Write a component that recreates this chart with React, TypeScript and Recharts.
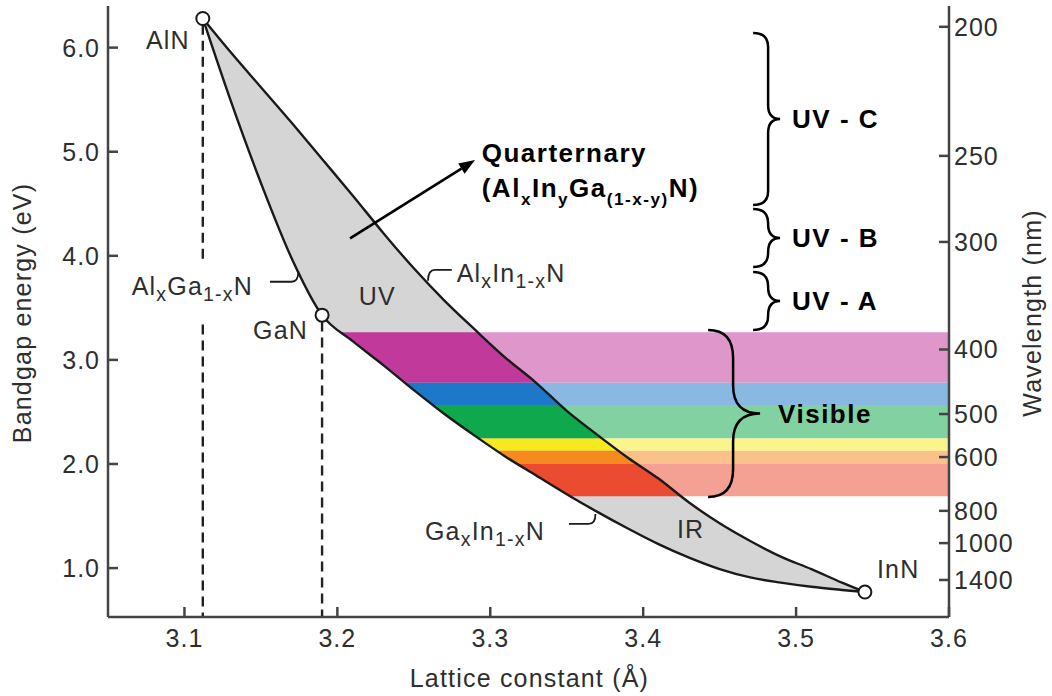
import React from 'react'
import { ComposedChart, Area, Line, Scatter, XAxis, YAxis, ReferenceLine, ReferenceDot } from 'recharts'

const FONT = '"Liberation Sans", Arial, Helvetica, sans-serif'
const INK = '#1a1a1a'
const AXIS = '#444'
const TEXT = '#2e2e2e'

// plot ranges: lattice constant (Å) and bandgap (eV)
const A_MIN = 3.05
const A_MAX = 3.6
const E_MIN = 0.53
const E_MAX = 6.4

const latticeTicks = [3.1, 3.2, 3.3, 3.4, 3.5, 3.6]
const energyTicks = [1, 2, 3, 4, 5, 6]
const wavelengthTicks = [200, 250, 300, 400, 500, 600, 800, 1000, 1400]

// binary end points
const compoundNames = ['AlN', 'GaN', 'InN']
const compoundLattice = [3.112, 3.19, 3.545]
const compoundGap = [6.28, 3.43, 0.77]

// lattice constant samples along the ternary boundaries
const latticeA = [
  3.112, 3.13, 3.15, 3.17, 3.19, 3.21, 3.23, 3.25, 3.27, 3.29, 3.31, 3.33,
  3.35, 3.37, 3.39, 3.41, 3.43, 3.45, 3.47, 3.49, 3.51, 3.53, 3.545,
]
// AlInN: AlN -> InN
const gapAlInN = [
  6.28, 5.96, 5.62, 5.28, 4.93, 4.58, 4.22, 3.88, 3.57, 3.29, 3.02, 2.78,
  2.51, 2.28, 2.06, 1.86, 1.63, 1.43, 1.26, 1.11, 0.99, 0.86, 0.77,
]
// AlGaN: AlN -> GaN (first five samples)
const gapAlGaN = [6.28, 5.5, 4.7, 3.98, 3.43]
// GaInN: GaN -> InN (from the GaN sample on)
const gapGaInN = [
  3.43, 3.18, 2.95, 2.71, 2.48, 2.27, 2.07, 1.89, 1.71, 1.54, 1.38, 1.23,
  1.1, 0.99, 0.91, 0.86, 0.82, 0.79, 0.77,
]

// visible colour bands (eV edges, violet -> red)
const bandEdges = [3.265, 2.78, 2.566, 2.246, 2.127, 2.0, 1.69]
const bandColors = ['#c1399b', '#1d78c9', '#0fa84c', '#f6ea1f', '#f68a1f', '#ea4b31']

// spectral range braces
const braceLabels = ['UV - C', 'UV - B', 'UV - A', 'Visible']
const braceLattice = [3.4817, 3.4817, 3.4817, 3.4588]
const braceTop = [6.141, 4.45, 3.845, 3.287]
const braceBottom = [4.488, 3.893, 3.287, 1.683]

// free text notes
const noteText = ['UV', 'IR', 'Al_{x}Ga_{1-x}N', 'Al_{x}In_{1-x}N', 'Ga_{x}In_{1-x}N', 'Quarternary', '(Al_{x}In_{y}Ga_{(1-x-y)}N)']
const noteLattice = [3.2262, 3.431, 3.0655, 3.278, 3.2573, 3.2944, 3.2944]
const noteGap = [3.527, 1.289, 3.624, 3.751, 1.27, 4.904, 4.565]

// leader lines from alloy names to their curves
const leaderFrom = [[3.1559, 3.751], [3.2748, 3.864], [3.3515, 1.424]]
const leaderTo = [[3.1745, 3.85], [3.2593, 3.76], [3.3688, 1.52]]

// dashed drop lines below AlN and GaN
const dropLattice = [3.112, 3.112, 3.19]
const dropTop = [6.22, 3.34, 3.37]
const dropBottom = [3.94, E_MIN, E_MIN]

const HC = 1240 // eV·nm

const lowerEdge = [...gapAlGaN, ...gapGaInN.slice(1)]
const boundaryRows = latticeA.map((a, i) => ({ a, upper: gapAlInN[i], lower: lowerEdge[i] }))
const overlayRows = [...boundaryRows, { a: A_MAX, upper: compoundGap[2], lower: compoundGap[2] }]
const upperLine = latticeA.map((a, i) => ({ a, eg: gapAlInN[i] }))
const lowerLine = latticeA.map((a, i) => ({ a, eg: lowerEdge[i] }))
const compoundRows = compoundNames.map((name, i) => ({ name, a: compoundLattice[i], eg: compoundGap[i] }))

const labelOffset: Record<string, [number, number, string]> = {
  AlN: [-13, 31, 'end'],
  GaN: [-14, 24, 'end'],
  InN: [12, -14, 'start'],
}

function RichText({ x, y, text, size, bold, anchor }: any) {
  const parts = text.split(/(_\{[^}]*\})/).filter(Boolean)
  const drop = size * (bold ? 0.3 : 0.24)
  const subSize = size * (bold ? 0.66 : 0.78)
  let lowered = false
  return (
    <text
      x={x}
      y={y}
      textAnchor={anchor}
      fontFamily={FONT}
      fontSize={size}
      fontWeight={bold ? 700 : 400}
      letterSpacing={bold ? 1.5 : 1.2}
      fill={bold ? '#000' : TEXT}
    >
      {parts.map((p: string, i: number) => {
        const sub = p.startsWith('_{')
        const dy = sub ? (lowered ? 0 : drop) : lowered ? -drop : 0
        lowered = sub
        return (
          <tspan key={i} dy={dy} fontSize={sub ? subSize : size}>
            {sub ? p.slice(2, -1) : p}
          </tspan>
        )
      })}
    </text>
  )
}

const tickText = { fontFamily: FONT, fontSize: 25, letterSpacing: 1, fill: TEXT }

function LeftTick({ x, y, payload }: any) {
  const ax = x + 8
  return (
    <g>
      <line x1={ax} x2={ax + 10} y1={y} y2={y} stroke={AXIS} strokeWidth={2.5} />
      <text x={x} y={y} dy="0.36em" textAnchor="end" {...tickText}>
        {Number(payload.value).toFixed(1)}
      </text>
    </g>
  )
}

function RightTick({ x, y, payload }: any) {
  const ax = x - 5
  return (
    <g>
      <line x1={ax} x2={ax - 10} y1={y} y2={y} stroke={AXIS} strokeWidth={2.5} />
      <text x={x} y={y} dy="0.36em" textAnchor="start" {...tickText}>
        {Math.round(HC / payload.value)}
      </text>
    </g>
  )
}

function BottomTick({ x, y, payload }: any) {
  const ay = y - 8
  return (
    <g>
      <line x1={x} x2={x} y1={ay} y2={ay - 10} stroke={AXIS} strokeWidth={2.5} />
      <text x={x} y={ay + 30} textAnchor="middle" {...tickText}>
        {Number(payload.value).toFixed(1)}
      </text>
    </g>
  )
}

function TopTick({ x, y }: any) {
  return <line x1={x} x2={x} y1={y} y2={y + 10} stroke={AXIS} strokeWidth={2.5} />
}

function CompoundMark({ cx, cy, payload }: any) {
  const [dx, dy, anchor] = labelOffset[payload.name]
  return (
    <g>
      <circle cx={cx} cy={cy} r={6.5} fill="#fff" stroke={INK} strokeWidth={2} />
      <text x={cx + dx} y={cy + dy} textAnchor={anchor} fontFamily={FONT} fontSize={25} letterSpacing={1.2} fill={TEXT}>
        {payload.name}
      </text>
    </g>
  )
}

function braceShape(label: string, cw: number, ch: number, tip: number, gap: number) {
  return (p: any) => {
    const x = p.x1
    const top = Math.min(p.y1, p.y2)
    const bot = Math.max(p.y1, p.y2)
    const mid = (top + bot) / 2
    const d = [
      `M ${x - cw} ${top}`,
      `Q ${x} ${top} ${x} ${top + ch}`,
      `L ${x} ${mid - ch}`,
      `Q ${x} ${mid} ${x + tip} ${mid}`,
      `Q ${x} ${mid} ${x} ${mid + ch}`,
      `L ${x} ${bot - ch}`,
      `Q ${x} ${bot} ${x - cw} ${bot}`,
    ].join(' ')
    return (
      <g>
        <path d={d} fill="none" stroke="#000" strokeWidth={2.5} />
        <text x={x + tip + gap} y={mid} dy="0.36em" fontFamily={FONT} fontSize={26} fontWeight={700} letterSpacing={1.5} fill="#000">
          {label}
        </text>
      </g>
    )
  }
}

function leaderShape(p: any) {
  const dir = Math.sign(p.x2 - p.x1)
  const d = `M ${p.x1} ${p.y1} L ${p.x2 - dir * 7} ${p.y1} Q ${p.x2} ${p.y1} ${p.x2} ${p.y2}`
  return <path d={d} fill="none" stroke={INK} strokeWidth={1.8} />
}

function arrowShape(p: any) {
  const ang = Math.atan2(p.y2 - p.y1, p.x2 - p.x1)
  const c = Math.cos(ang)
  const s = Math.sin(ang)
  const bx = p.x2 - 16 * c
  const by = p.y2 - 16 * s
  const head = `${p.x2},${p.y2} ${bx - 6 * s},${by + 6 * c} ${bx + 6 * s},${by - 6 * c}`
  return (
    <g>
      <line x1={p.x1} y1={p.y1} x2={bx} y2={by} stroke="#000" strokeWidth={2.6} />
      <polygon points={head} fill="#000" />
    </g>
  )
}

const titleStyle: React.CSSProperties = {
  position: 'absolute',
  fontFamily: FONT,
  fontSize: 25,
  letterSpacing: 1.2,
  lineHeight: 1,
  color: TEXT,
  whiteSpace: 'nowrap',
}

export default function App() {
  const axisLine = { stroke: AXIS, strokeWidth: 2.5 }
  return (
    <div style={{ position: 'absolute', left: 0, top: 0, width: 1052, height: 696, background: '#fff' }}>
      <ComposedChart width={1052} height={696} margin={{ top: 6, right: 0, bottom: 0, left: 0 }}>
        <XAxis
          dataKey="a"
          type="number"
          domain={[A_MIN, A_MAX]}
          ticks={latticeTicks}
          interval={0}
          allowDataOverflow
          height={79}
          tickSize={0}
          tickMargin={8}
          tickLine={false}
          axisLine={axisLine}
          tick={<BottomTick />}
        />
        <XAxis
          xAxisId="top"
          orientation="top"
          type="number"
          domain={[A_MIN, A_MAX]}
          ticks={latticeTicks.slice(0, 5)}
          interval={0}
          allowDataOverflow
          height={0}
          tickSize={0}
          tickMargin={0}
          tickLine={false}
          axisLine={axisLine}
          tick={<TopTick />}
        />
        <YAxis
          dataKey="eg"
          type="number"
          domain={[E_MIN, E_MAX]}
          ticks={energyTicks}
          interval={0}
          allowDataOverflow
          width={108}
          tickSize={0}
          tickMargin={8}
          tickLine={false}
          axisLine={axisLine}
          tick={<LeftTick />}
        />
        <YAxis
          yAxisId="right"
          orientation="right"
          type="number"
          domain={[E_MIN, E_MAX]}
          ticks={wavelengthTicks.map((w) => HC / w)}
          interval={0}
          allowDataOverflow
          width={103}
          tickSize={0}
          tickMargin={5}
          tickLine={false}
          axisLine={axisLine}
          tick={<RightTick />}
        />

        {/* quaternary region between the three ternary curves */}
        <Area
          data={boundaryRows}
          dataKey={(r: any) => [r.lower, r.upper]}
          type="monotone"
          stroke="none"
          fill="#d5d5d5"
          fillOpacity={1}
          dot={false}
          activeDot={false}
          isAnimationActive={false}
        />
        {bandColors.map((color, i) => (
          <Area
            key={color}
            data={[
              { a: compoundLattice[1], band: [bandEdges[i + 1], bandEdges[i]] },
              { a: A_MAX, band: [bandEdges[i + 1], bandEdges[i]] },
            ]}
            dataKey="band"
            type="linear"
            stroke="none"
            fill={color}
            fillOpacity={1}
            dot={false}
            activeDot={false}
            isAnimationActive={false}
          />
        ))}
        {/* bands start at the GaInN edge */}
        <Area
          data={boundaryRows}
          dataKey={(r: any) => [E_MIN, r.lower]}
          type="monotone"
          stroke="none"
          fill="#fff"
          fillOpacity={1}
          dot={false}
          activeDot={false}
          isAnimationActive={false}
        />
        {/* paler bands outside the alloy region */}
        <Area
          data={overlayRows}
          dataKey={(r: any) => [r.upper, E_MAX]}
          type="monotone"
          stroke="none"
          fill="#fff"
          fillOpacity={0.48}
          dot={false}
          activeDot={false}
          isAnimationActive={false}
        />

        {dropLattice.map((a, i) => (
          <ReferenceLine
            key={`drop-${i}`}
            segment={[{ x: a, y: dropTop[i] }, { x: a, y: dropBottom[i] }]}
            stroke="#222"
            strokeWidth={2.4}
            strokeDasharray="10 6"
          />
        ))}

        <Line data={upperLine} dataKey="eg" type="monotone" stroke={INK} strokeWidth={2.4} dot={false} activeDot={false} isAnimationActive={false} />
        <Line data={lowerLine} dataKey="eg" type="monotone" stroke={INK} strokeWidth={2.4} dot={false} activeDot={false} isAnimationActive={false} />

        <Scatter data={compoundRows} shape={CompoundMark} isAnimationActive={false} />

        {leaderFrom.map((from, i) => (
          <ReferenceLine
            key={`leader-${i}`}
            segment={[{ x: from[0], y: from[1] }, { x: leaderTo[i][0], y: leaderTo[i][1] }]}
            shape={leaderShape}
          />
        ))}
        <ReferenceLine segment={[{ x: 3.2083, y: 4.168 }, { x: 3.29, y: 4.92 }]} shape={arrowShape} />

        {braceLabels.map((label, i) => {
          const wide = label === 'Visible'
          return (
            <ReferenceLine
              key={label}
              segment={[{ x: braceLattice[i], y: braceTop[i] }, { x: braceLattice[i], y: braceBottom[i] }]}
              shape={braceShape(label, wide ? 25 : 15, wide ? 28 : 14, wide ? 27 : 12, wide ? 18 : 12)}
            />
          )
        })}

        {noteText.map((text, i) => (
          <ReferenceDot
            key={text}
            x={noteLattice[i]}
            y={noteGap[i]}
            r={0}
            shape={(p: any) => (
              <RichText
                x={p.cx}
                y={p.cy}
                text={text}
                size={i >= 5 ? 26 : 25}
                bold={i >= 5}
                anchor={i < 2 ? 'middle' : 'start'}
              />
            )}
          />
        ))}
      </ComposedChart>

      <div style={{ ...titleStyle, left: 21.5, top: 313, transform: 'translate(-50%, -50%) rotate(-90deg)' }}>
        Bandgap energy (eV)
      </div>
      <div style={{ ...titleStyle, left: 1032, top: 312.5, transform: 'translate(-50%, -50%) rotate(-90deg)' }}>
        Wavelength (nm)
      </div>
      <div style={{ ...titleStyle, left: 529.4, top: 677.5, transform: 'translate(-50%, -50%)' }}>
        Lattice constant (Å)
      </div>
    </div>
  )
}
